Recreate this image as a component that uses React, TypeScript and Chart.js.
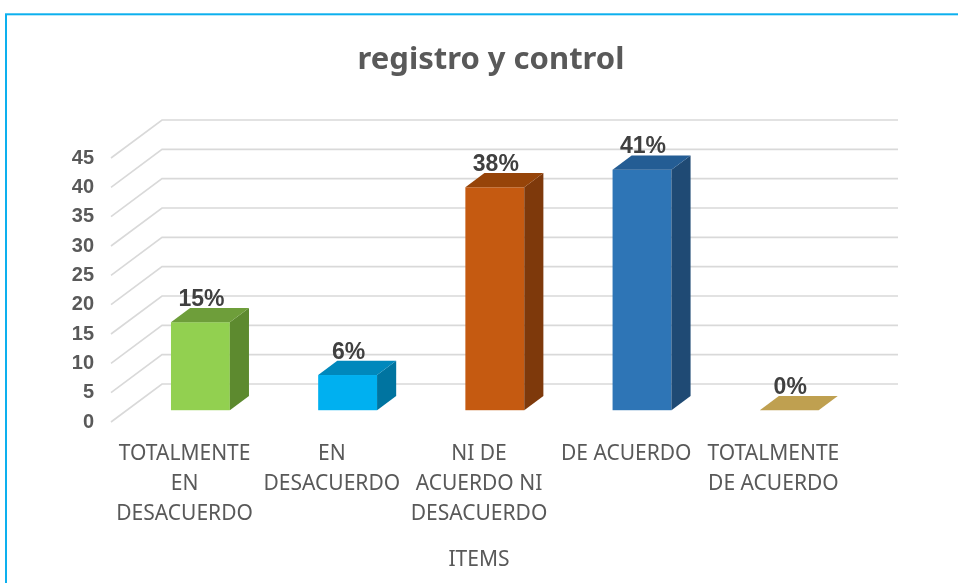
import React, { useEffect, useRef } from 'react';
import { Chart, registerables } from 'chart.js';

Chart.register(...registerables);

const chartTitle = 'registro y control';
const axisTitle = 'ITEMS';
const categories: string[][] = [
  ['TOTALMENTE', 'EN', 'DESACUERDO'],
  ['EN', 'DESACUERDO'],
  ['NI DE', 'ACUERDO NI', 'DESACUERDO'],
  ['DE ACUERDO'],
  ['TOTALMENTE', 'DE ACUERDO'],
];
const values = [15, 6, 38, 41, 0];
const valueLabels = ['15%', '6%', '38%', '41%', '0%'];
const yMin = 0;
const yMax = 45;
const yStep = 5;

const frontColors = ['#92D050', '#00B0F0', '#C55A11', '#2E75B6', '#C4A24E'];
const topColors = ['#6E9E3A', '#0088BC', '#964409', '#245D94', '#BFA050'];
const sideColors = ['#5D8A2F', '#0074A0', '#7E390B', '#1F4A74', '#9C8240'];

const DEPTH_X = 51;
const DEPTH_Y = 38;
const FRONT_GAP = 0.31;
const BAR_DEPTH = 0.375;

const threeD = {
  id: 'threeD',
  beforeDraw(chart: any) {
    const { ctx, width, height } = chart;
    ctx.save();
    ctx.fillStyle = '#FFFFFF';
    ctx.fillRect(0, 0, width, height);
    ctx.strokeStyle = '#0DB0EE';
    ctx.lineWidth = 2;
    ctx.strokeRect(6, 14.3, width + 50, height + 50);
    ctx.restore();
  },
  beforeDatasetsDraw(chart: any) {
    const { ctx, chartArea } = chart;
    const yScale = chart.scales.y;
    ctx.save();
    ctx.strokeStyle = '#D9D9D9';
    ctx.lineWidth = 1.6;
    yScale.ticks.forEach((t: any) => {
      const y = yScale.getPixelForValue(t.value);
      ctx.beginPath();
      ctx.moveTo(chartArea.left, y);
      ctx.lineTo(chartArea.left + DEPTH_X, y - DEPTH_Y);
      ctx.lineTo(chartArea.right + DEPTH_X, y - DEPTH_Y);
      ctx.stroke();
    });
    ctx.restore();
  },
  afterDatasetsDraw(chart: any) {
    const { ctx } = chart;
    const meta = chart.getDatasetMeta(0);
    const ox = DEPTH_X * FRONT_GAP;
    const oy = DEPTH_Y * FRONT_GAP;
    const bx = DEPTH_X * BAR_DEPTH;
    const by = DEPTH_Y * BAR_DEPTH;
    ctx.save();
    meta.data.forEach((el: any, i: number) => {
      const { x, y, base, width } = el.getProps(['x', 'y', 'base', 'width'], true);
      const l = x - width / 2 + ox;
      const r = x + width / 2 + ox;
      const t = y - oy;
      const b = base - oy;
      if (b - t > 0.5) {
        ctx.fillStyle = frontColors[i];
        ctx.fillRect(l, t, r - l, b - t);
        ctx.fillStyle = sideColors[i];
        ctx.beginPath();
        ctx.moveTo(r, t);
        ctx.lineTo(r + bx, t - by);
        ctx.lineTo(r + bx, b - by);
        ctx.lineTo(r, b);
        ctx.closePath();
        ctx.fill();
      }
      ctx.fillStyle = topColors[i];
      ctx.beginPath();
      ctx.moveTo(l, t);
      ctx.lineTo(l + bx, t - by);
      ctx.lineTo(r + bx, t - by);
      ctx.lineTo(r, t);
      ctx.closePath();
      ctx.fill();
      ctx.fillStyle = '#404040';
      ctx.font = 'bold 23px "Liberation Sans", Arial, sans-serif';
      ctx.textAlign = 'center';
      ctx.textBaseline = 'alphabetic';
      ctx.fillText(valueLabels[i], (l + r) / 2 + 1, t - by - 2);
    });
    ctx.restore();
  },
};

export default function App() {
  const ref = useRef<HTMLCanvasElement | null>(null);
  useEffect(() => {
    if (!ref.current) return;
    const chart = new Chart(ref.current, {
      type: 'bar',
      data: {
        labels: categories,
        datasets: [
          {
            data: values,
            backgroundColor: 'rgba(0,0,0,0)',
            borderWidth: 0,
            categoryPercentage: 1,
            barPercentage: 0.4,
            yAxisID: 'y',
          },
        ],
      },
      options: {
        animation: false,
        responsive: false,
        maintainAspectRatio: false,
        layout: { padding: { left: 24, right: 0, top: 0, bottom: 0 } },
        plugins: {
          legend: { display: false },
          tooltip: { enabled: false },
          title: {
            display: true,
            text: chartTitle,
            color: '#595959',
            font: { family: '"Noto Sans", sans-serif', size: 31, weight: 'bold', lineHeight: 1.2 },
            padding: { top: 42, bottom: 78.8 },
          },
        },
        scales: {
          x: {
            grid: { display: false, drawTicks: false },
            border: { display: false },
            ticks: {
              color: '#595959',
              font: { family: '"Noto Sans", sans-serif', size: 21, lineHeight: 1.43 },
              padding: 17,
              maxRotation: 0,
              autoSkip: false,
            },
            title: {
              display: true,
              text: axisTitle,
              color: '#595959',
              font: { family: '"Noto Sans", sans-serif', size: 21, lineHeight: 1.2 },
              padding: { top: 0, bottom: 10 },
            },
            afterFit: (s: any) => {
              s.height = 161;
            },
          },
          y: {
            min: yMin,
            max: yMax,
            grid: { display: false, drawTicks: false },
            border: { display: false },
            ticks: {
              stepSize: yStep,
              color: '#595959',
              font: { family: '"Liberation Sans", Arial, sans-serif', size: 20, weight: 'bold' },
              padding: 17,
            },
            afterFit: (s: any) => {
              s.width = 87;
            },
          },
          yRight: {
            position: 'right',
            min: yMin,
            max: yMax,
            grid: { display: false, drawTicks: false },
            border: { display: false },
            ticks: { display: false },
            afterFit: (s: any) => {
              s.width = 111;
            },
          },
        },
      },
      plugins: [threeD],
    });
    return () => chart.destroy();
  }, []);
  return (
    <div style={{ position: 'fixed', left: 0, top: 0, width: 958, height: 583 }}>
      <canvas ref={ref} width={958} height={583} style={{ display: 'block' }} />
    </div>
  );
}
